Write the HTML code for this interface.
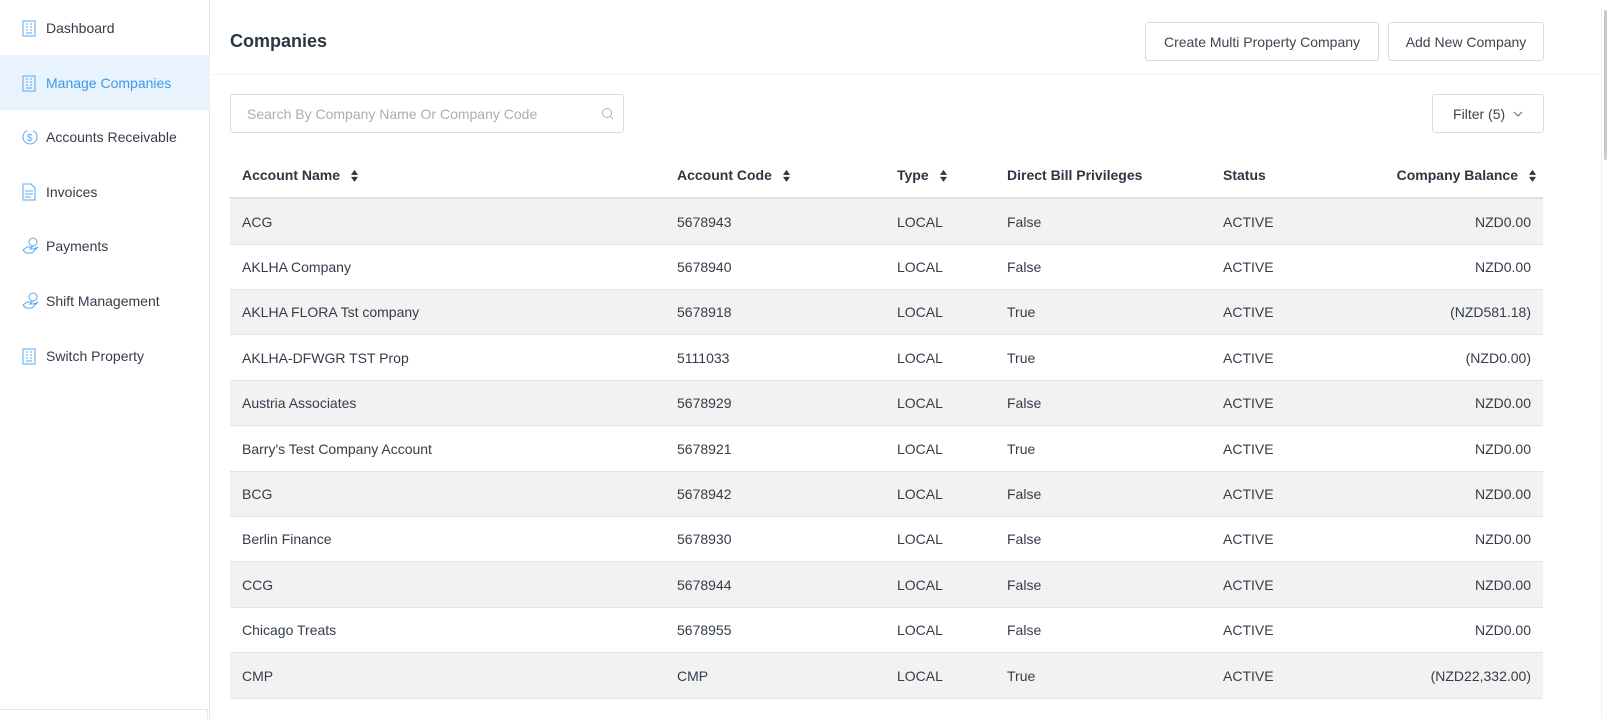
<!DOCTYPE html>
<html><head><meta charset="utf-8"><style>
*{box-sizing:border-box;margin:0;padding:0}
body{width:1607px;height:719px;overflow:hidden;background:#fff;font-family:"Liberation Sans",sans-serif;color:#333d4a;position:relative}
.abs{position:absolute}
.side{left:0;top:0;width:210px;height:719px;border-right:1px solid #e3e5e8}
.nav{position:absolute;left:0;width:210px;height:55px;display:flex;align-items:center;font-size:14px;color:#333d4a}
.nav svg{position:absolute;left:22px}
.nav span{position:absolute;left:46px}
.nav.act{background:#e8f3fd;color:#3b9ae8}
.btn{position:absolute;border:1px solid #d9dcdf;border-radius:3px;font-size:14px;color:#3d4550;display:flex;align-items:center;justify-content:center;background:#fff}
.row{position:absolute;left:230px;width:1313px;border-bottom:1px solid #e1e3e6;font-size:14px}
.row.g{background:#f2f2f2}
.row div{position:absolute;top:50%;transform:translateY(-50%);white-space:nowrap}
.hd{font-weight:bold;font-size:14px;color:#2c3744}
.sort{display:inline-block;vertical-align:middle;margin-left:10px}
</style></head><body>
<div class="abs side">
<div class="nav" style="top:0"><svg width="14" height="18" viewBox="0 0 14 18"><rect x="1" y="2" width="12" height="15" fill="none" stroke="#5aa9ee"/><path d="M4 5h2M8 5h2M4 8h2M8 8h2M4 11h2M8 11h2M4 14h6" stroke="#5aa9ee"/></svg><span>Dashboard</span></div>
<div class="nav act" style="top:55px"><svg width="14" height="18" viewBox="0 0 14 18"><rect x="1" y="2" width="12" height="15" fill="none" stroke="#5aa9ee"/><path d="M4 5h2M8 5h2M4 8h2M8 8h2M4 11h2M8 11h2M4 14h6" stroke="#5aa9ee"/></svg><span>Manage Companies</span></div>
<div class="nav" style="top:109px"><svg width="18" height="18" viewBox="0 0 18 18"><circle cx="8" cy="9" r="7" fill="none" stroke="#5aa9ee" stroke-dasharray="30 6"/><text x="5" y="13" font-size="10" fill="#5aa9ee">$</text></svg><span>Accounts Receivable</span></div>
<div class="nav" style="top:164px"><svg width="14" height="18" viewBox="0 0 14 18"><path d="M1 1h8l4 4v12H1z" fill="none" stroke="#5aa9ee"/><path d="M3 8h8M3 11h8M3 14h6" stroke="#5aa9ee"/></svg><span>Invoices</span></div>
<div class="nav" style="top:218px"><svg width="18" height="18" viewBox="0 0 18 18"><circle cx="11" cy="5" r="4" fill="none" stroke="#5aa9ee"/><path d="M1 13l4-3h5l-2 2h4l4-2-6 6H4z" fill="none" stroke="#5aa9ee"/></svg><span>Payments</span></div>
<div class="nav" style="top:273px"><svg width="18" height="18" viewBox="0 0 18 18"><circle cx="11" cy="5" r="4" fill="none" stroke="#5aa9ee"/><path d="M1 13l4-3h5l-2 2h4l4-2-6 6H4z" fill="none" stroke="#5aa9ee"/></svg><span>Shift Management</span></div>
<div class="nav" style="top:328px"><svg width="14" height="18" viewBox="0 0 14 18"><rect x="1" y="2" width="12" height="15" fill="none" stroke="#5aa9ee"/><path d="M4 5h2M8 5h2M4 8h2M8 8h2M4 11h2M8 11h2M4 14h6" stroke="#5aa9ee"/></svg><span>Switch Property</span></div>
<div class="abs" style="left:0;top:709px;width:208px;height:10px;border-top:1px solid #e3e5e8;border-right:1px solid #e3e5e8"></div>
</div>
<div class="abs" style="left:230px;top:31px;font-size:18px;font-weight:bold;color:#2c3744">Companies</div>
<div class="btn" style="left:1145px;top:22px;width:234px;height:39px">Create Multi Property Company</div>
<div class="btn" style="left:1388px;top:22px;width:156px;height:39px">Add New Company</div>
<div class="abs" style="left:211px;top:74px;width:1389px;height:1px;background:#eef0f2"></div>
<div class="abs" style="left:1601px;top:8px;width:1px;height:711px;background:#eceef0"></div>
<div class="abs" style="left:1604px;top:10px;width:3px;height:150px;background:#c8cbce;border-radius:2px"></div>
<div class="btn" style="left:230px;top:94px;width:394px;height:39px;justify-content:flex-start;padding-left:16px;color:#a8aeb5">Search By Company Name Or Company Code
<svg class="abs" style="left:370px;top:12px" width="13" height="13" viewBox="0 0 13 13"><circle cx="6" cy="6" r="4.5" fill="none" stroke="#b0b5ba"/><path d="M9.3 9.3L12 12" stroke="#b0b5ba"/></svg></div>
<div class="btn" style="left:1432px;top:94px;width:112px;height:39px">Filter (5)&nbsp;&nbsp;<svg width="10" height="6" viewBox="0 0 10 6"><path d="M1 1l4 4 4-4" fill="none" stroke="#666"/></svg></div>

<div class="row" style="top:152px;height:47px;border-bottom:2px solid #dde0e4">
<div class="hd" style="left:12px">Account Name<svg class="sort" width="9" height="14" viewBox="0 0 9 14"><path d="M4.5 1L8 6H1zM4.5 13L8 8H1z" fill="#2c3744"/></svg></div>
<div class="hd" style="left:447px">Account Code<svg class="sort" width="9" height="14" viewBox="0 0 9 14"><path d="M4.5 1L8 6H1zM4.5 13L8 8H1z" fill="#2c3744"/></svg></div>
<div class="hd" style="left:667px">Type<svg class="sort" width="9" height="14" viewBox="0 0 9 14"><path d="M4.5 1L8 6H1zM4.5 13L8 8H1z" fill="#2c3744"/></svg></div>
<div class="hd" style="left:777px">Direct Bill Privileges</div>
<div class="hd" style="left:993px">Status</div>
<div class="hd" style="right:6px">Company Balance<svg class="sort" width="9" height="14" viewBox="0 0 9 14"><path d="M4.5 1L8 6H1zM4.5 13L8 8H1z" fill="#2c3744"/></svg></div>
</div>

<div class="row g" style="top:199px;height:46px"><div style="left:12px">ACG</div><div style="left:447px">5678943</div><div style="left:667px">LOCAL</div><div style="left:777px">False</div><div style="left:993px">ACTIVE</div><div style="right:12px">NZD0.00</div></div>
<div class="row" style="top:245px;height:45px"><div style="left:12px">AKLHA Company</div><div style="left:447px">5678940</div><div style="left:667px">LOCAL</div><div style="left:777px">False</div><div style="left:993px">ACTIVE</div><div style="right:12px">NZD0.00</div></div>
<div class="row g" style="top:290px;height:45px"><div style="left:12px">AKLHA FLORA Tst company</div><div style="left:447px">5678918</div><div style="left:667px">LOCAL</div><div style="left:777px">True</div><div style="left:993px">ACTIVE</div><div style="right:12px">(NZD581.18)</div></div>
<div class="row" style="top:335px;height:46px"><div style="left:12px">AKLHA-DFWGR TST Prop</div><div style="left:447px">5111033</div><div style="left:667px">LOCAL</div><div style="left:777px">True</div><div style="left:993px">ACTIVE</div><div style="right:12px">(NZD0.00)</div></div>
<div class="row g" style="top:381px;height:45px"><div style="left:12px">Austria Associates</div><div style="left:447px">5678929</div><div style="left:667px">LOCAL</div><div style="left:777px">False</div><div style="left:993px">ACTIVE</div><div style="right:12px">NZD0.00</div></div>
<div class="row" style="top:426px;height:46px"><div style="left:12px">Barry's Test Company Account</div><div style="left:447px">5678921</div><div style="left:667px">LOCAL</div><div style="left:777px">True</div><div style="left:993px">ACTIVE</div><div style="right:12px">NZD0.00</div></div>
<div class="row g" style="top:472px;height:45px"><div style="left:12px">BCG</div><div style="left:447px">5678942</div><div style="left:667px">LOCAL</div><div style="left:777px">False</div><div style="left:993px">ACTIVE</div><div style="right:12px">NZD0.00</div></div>
<div class="row" style="top:517px;height:45px"><div style="left:12px">Berlin Finance</div><div style="left:447px">5678930</div><div style="left:667px">LOCAL</div><div style="left:777px">False</div><div style="left:993px">ACTIVE</div><div style="right:12px">NZD0.00</div></div>
<div class="row g" style="top:562px;height:46px"><div style="left:12px">CCG</div><div style="left:447px">5678944</div><div style="left:667px">LOCAL</div><div style="left:777px">False</div><div style="left:993px">ACTIVE</div><div style="right:12px">NZD0.00</div></div>
<div class="row" style="top:608px;height:45px"><div style="left:12px">Chicago Treats</div><div style="left:447px">5678955</div><div style="left:667px">LOCAL</div><div style="left:777px">False</div><div style="left:993px">ACTIVE</div><div style="right:12px">NZD0.00</div></div>
<div class="row g" style="top:653px;height:46px"><div style="left:12px">CMP</div><div style="left:447px">CMP</div><div style="left:667px">LOCAL</div><div style="left:777px">True</div><div style="left:993px">ACTIVE</div><div style="right:12px">(NZD22,332.00)</div></div>
<div class="row" style="top:699px;height:20px;border-bottom:none"></div>
</body></html>
